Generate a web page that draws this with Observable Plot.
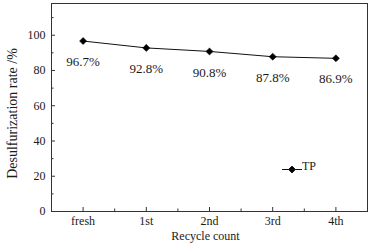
<!DOCTYPE html>
<html>
<head>
<meta charset="utf-8">
<script src="https://cdn.jsdelivr.net/npm/d3@7"></script>
<script src="https://cdn.jsdelivr.net/npm/@observablehq/plot@0.6"></script>
<style>
  html, body { margin: 0; padding: 0; background: #fff; }
  #chart svg { display: block; }
</style>
</head>
<body>
<div id="chart"></div>
<script>
const categories = ["fresh", "1st", "2nd", "3rd", "4th"];
const rates = [96.7, 92.8, 90.8, 87.8, 86.9];
const rateLabels = ["96.7%", "92.8%", "90.8%", "87.8%", "86.9%"];
const yMajorTicks = [0, 20, 40, 60, 80, 100];
const yMinorTicks = [10, 30, 50, 70, 90, 110];
const xMajorTicks = [0, 1, 2, 3, 4];
const xMinorTicks = [0.5, 1.5, 2.5, 3.5];
const seriesName = "TP";
const xTitle = "Recycle count";
const yTitle = "Desulfurization rate /%";

const data = categories.map((c, i) => ({i, c, v: rates[i], label: rateLabels[i]}));

const W = 373, H = 252;
const mT = 3, mB = 41, mL = 51, mR = 6;
const frameH = H - mT - mB;
const frameW = W - mL - mR;
const ink = "#1a1a1a";

// legend swatch: short horizontal line crossed by a diamond
const legendSymbol = {
  draw(context) {
    context.moveTo(-10, 0); context.lineTo(10, 0);
    const r = 3.4;
    context.moveTo(0, -r); context.lineTo(r, 0); context.lineTo(0, r); context.lineTo(-r, 0); context.closePath();
  }
};

const chart = Plot.plot({
  width: W,
  height: H,
  marginTop: mT,
  marginBottom: mB,
  marginLeft: mL,
  marginRight: mR,
  style: { fontFamily: "'Liberation Serif', 'Times New Roman', serif", fontSize: "12px", color: ink, background: "#fff" },
  x: { type: "linear", domain: [-0.5, 4.5] },
  y: { domain: [0, 118] },
  marks: [
    Plot.frame({ stroke: "#333" }),
    // inward ticks
    Plot.tickX(xMajorTicks, { x: d => d, stroke: "#333", insetTop: frameH - 4 }),
    Plot.tickX(xMinorTicks, { x: d => d, stroke: "#333", insetTop: frameH - 2.5 }),
    Plot.tickY(yMajorTicks, { y: d => d, stroke: "#333", insetRight: frameW - 4 }),
    Plot.tickY(yMinorTicks, { y: d => d, stroke: "#333", insetRight: frameW - 2.5 }),
    Plot.axisX({ ticks: xMajorTicks, tickSize: 0, tickPadding: 5, tickFormat: d => categories[d], label: null, fill: ink, fontSize: 12 }),
    Plot.axisY({ ticks: yMajorTicks, tickSize: 0, tickPadding: 6, label: null, fill: ink, fontSize: 12 }),
    // axis titles
    Plot.text([xTitle], { frameAnchor: "bottom", dy: 28, dx: -4, fill: ink, fontSize: 12 }),
    Plot.text([yTitle], { frameAnchor: "left", textAnchor: "middle", dx: -39, dy: 6, rotate: -90, fill: ink, fontSize: 14 }),
    // series
    Plot.line(data, { x: "i", y: "v", stroke: "#111", strokeWidth: 1 }),
    Plot.dot(data, { x: "i", y: "v", symbol: "diamond2", r: 3.2, fill: "#000", stroke: "#000", strokeWidth: 0.5 }),
    Plot.text(data, { x: "i", y: "v", text: "label", dy: 21, fill: ink, fontSize: 13 }),
    // legend
    Plot.dot([seriesName], { frameAnchor: "bottom-right", dx: -75.5, dy: -42, symbol: legendSymbol, fill: "#000", stroke: "#111", strokeWidth: 1 }),
    Plot.text([seriesName], { frameAnchor: "bottom-right", dx: -65.5, dy: -42, textAnchor: "start", fill: ink, fontSize: 12 })
  ]
});
document.getElementById("chart").appendChild(chart);
</script>
</body>
</html>
